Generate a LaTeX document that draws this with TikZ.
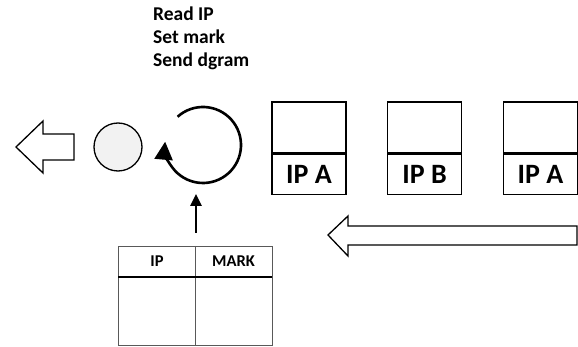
\documentclass[tikz,border=0pt]{standalone}
\usepackage{fontspec}
\setmainfont{Carlito}
\usetikzlibrary{arrows.meta,calc}
\begin{document}
\begin{tikzpicture}[x=1pt,y=-1pt,
  txt/.style={font=\bfseries\fontsize{19.5}{23}\selectfont,anchor=base west,inner sep=0pt},
  pkttop/.style={draw,line width=1.6pt,minimum width=74pt,minimum height=51pt,inner sep=0pt},
  pktbot/.style={draw,line width=1.6pt,minimum width=74pt,minimum height=40pt,inner sep=0pt,
    font=\bfseries\fontsize{28}{28}\selectfont},
  bigarrow/.style={draw,line width=1.3pt,fill=white,line join=miter},
  cell/.style={inner sep=0pt,font=\bfseries\fontsize{16.5}{16.5}\selectfont}]
\useasboundingbox (0,0) rectangle (578,347);

% program steps
\node[txt] (step1) at (153,21) {Read IP};
\node[txt] (step2) at (153,44) {Set mark};
\node[txt] (step3) at (153,67) {Send dgram};

% outgoing arrow
\draw[bigarrow] (16,147) -- (43,121) -- (43,134) -- (74,134) -- (74,160) -- (43,160) -- (43,173) -- cycle;

% sent datagram
\node[circle,draw,line width=1.3pt,fill=gray!10,minimum size=48pt,inner sep=0pt] (dgram) at (118,147) {};

% processing loop
\coordinate (loopc) at (203,145);
\draw[line width=2.6pt,-{Triangle[length=18pt,width=18pt]}]
  ($(loopc)+(228:38)$) arc[start angle=228,end angle=545,radius=38];

% packet queue
\node[pkttop] (p1t) at (309,127.5) {};
\node[pktbot,anchor=north] (p1b) at (p1t.south) {IP A};
\node[pkttop] (p2t) at (424.5,127.5) {};
\node[pktbot,anchor=north] (p2b) at (p2t.south) {IP B};
\node[pkttop] (p3t) at (540.5,127.5) {};
\node[pktbot,anchor=north] (p3b) at (p3t.south) {IP A};

% incoming arrow
\draw[bigarrow] (328,235) -- (348,216) -- (348,226) -- (577,226) -- (577,245) -- (348,245) -- (348,256) -- cycle;

% mark table
\coordinate (tl) at (118,246);
\coordinate (tr) at (272,246);
\coordinate (bl) at (118,345);
\coordinate (br) at (272,345);
\coordinate (mt) at (195,246);
\coordinate (mb) at (195,345);
\draw[gray!70!black,line width=0.8pt] (tl) rectangle (br) (mt) -- (mb);
\draw[line width=1.5pt] (118,277) -- (272,277);
\node[cell] (hip) at (157,261.5) {IP};
\node[cell] (hmark) at (233.5,261.5) {MARK};

% lookup arrow
\coordinate (lookup) at (196,233);
\draw[line width=2.6pt,-{Triangle[length=12pt,width=11pt]}] (lookup) -- (196,194);
\end{tikzpicture}
\end{document}
